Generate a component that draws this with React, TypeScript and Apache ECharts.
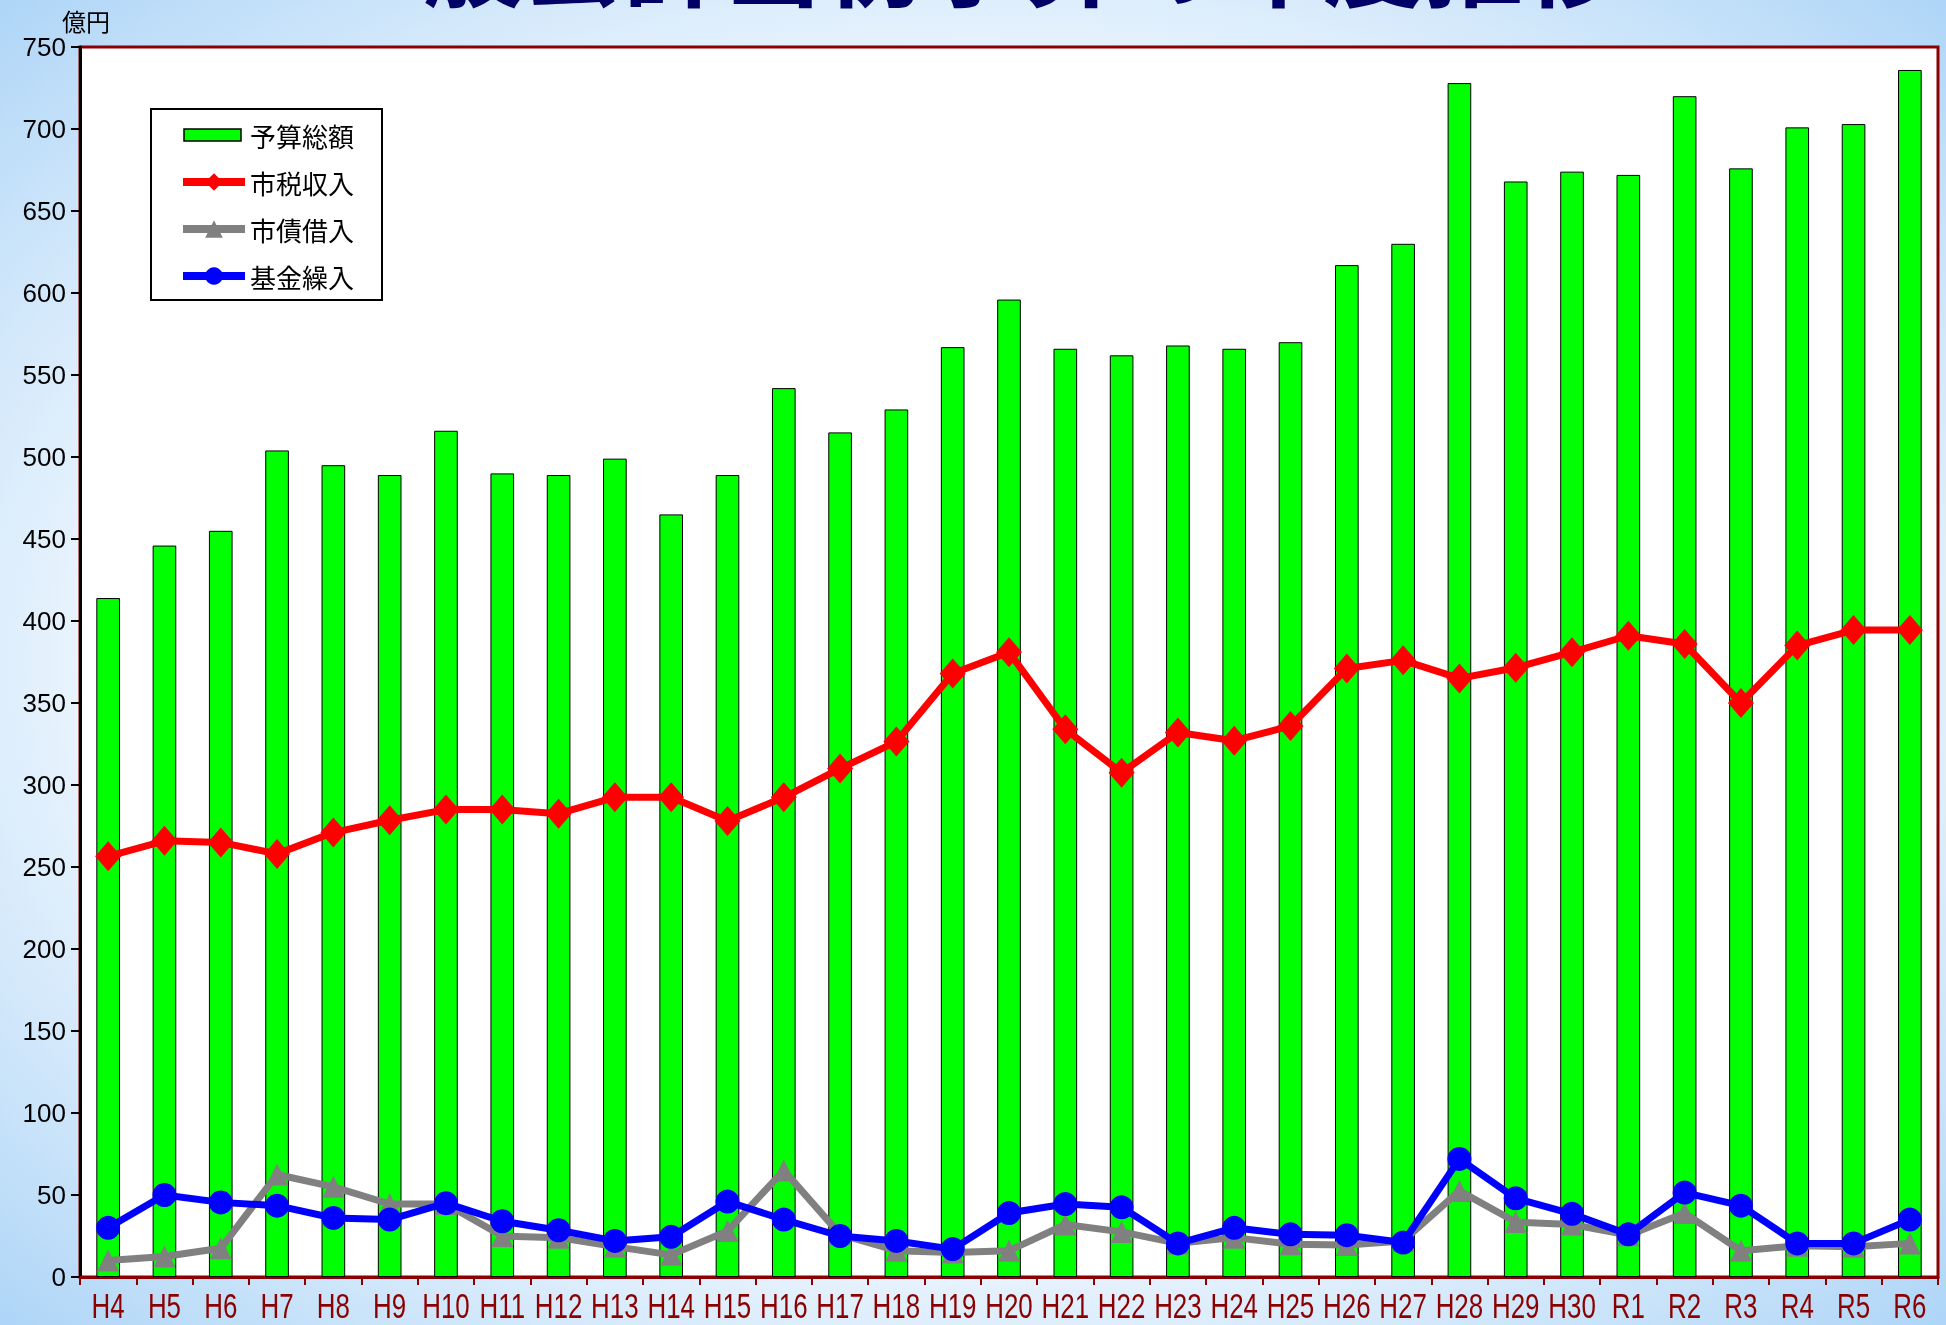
import React, { useEffect, useRef } from "react";
import * as echarts from "echarts";

const categories = [
  "H4", "H5", "H6", "H7", "H8", "H9", "H10", "H11", "H12", "H13", "H14", "H15", "H16", "H17", "H18", "H19",
  "H20", "H21", "H22", "H23", "H24", "H25", "H26", "H27", "H28", "H29", "H30", "R1", "R2", "R3", "R4", "R5", "R6",
];
const budgetTotal = [
  414, 446, 455, 504, 495, 489, 516, 490, 489, 499, 465, 489, 542, 515, 529, 567,
  596, 566, 562, 568, 566, 570, 617, 630, 728, 668, 674, 672, 720, 676, 701, 703, 736,
];
const taxRevenue = [
  256.5, 266, 265, 258, 271, 278.5, 285, 285, 282.5, 292.5, 292.5, 278, 292.5, 310, 326.5, 368,
  381, 334, 307.5, 332, 327, 336, 371, 376, 365, 371.5, 381, 391, 386, 350, 385, 394.5, 394.5,
];
const bondIssue = [
  10, 12.5, 17.5, 62.5, 55, 44.5, 44.5, 25, 24, 18.5, 13.5, 28, 65, 26, 16, 15,
  16, 32, 27.5, 20.5, 24, 20, 19.5, 22, 52.5, 33.5, 32, 25.5, 39, 16, 19, 18.5, 20.5,
];
const fundTransfer = [
  30, 50, 45.5, 43.5, 36, 35, 45, 34, 28.5, 22, 24.5, 46, 35, 25, 22, 17,
  39, 44.5, 42.5, 20.5, 30, 26, 25.5, 21, 72, 48, 38.5, 26, 51.5, 43.5, 20.5, 20.5, 35,
];
const seriesNames = ["予算総額", "市税収入", "市債借入", "基金繰入"];
const titleText = "一般会計当初予算の年度推移";
const unitText = "億円";

const JP = "'Noto Sans CJK JP', 'Noto Sans', sans-serif";
const SANS = "'Liberation Sans', Arial, sans-serif";

export default function App() {
  const ref = useRef<HTMLDivElement>(null);
  useEffect(() => {
    if (!ref.current) return;
    const chart = echarts.init(ref.current, null, { renderer: "svg" });
    const lineCommon = {
      type: "line" as const,
      z: 3,
    };
    const baseGraphics: any[] = [
      {
        id: "title",
        type: "text",
        x: 973,
        y: 5,
        style: {
          text: titleText,
          fill: "#000066",
          font: `bold 100px ${JP}`,
          align: "center",
          verticalAlign: "bottom",
        },
      },
      {
        id: "unit",
        type: "text",
        x: 62,
        y: 8,
        style: {
          text: unitText,
          fill: "#000000",
          font: `24px ${JP}`,
        },
      },
    ];
    chart.setOption({
      animation: false,
      backgroundColor: {
        type: "radial",
        x: 0.5,
        y: 0.5,
        r: 0.75,
        colorStops: [
          { offset: 0, color: "#ffffff" },
          { offset: 0.6, color: "#eaf4fd" },
          { offset: 1, color: "#a4d0f6" },
        ],
      },
      graphic: baseGraphics,
      legend: {
        orient: "vertical",
        left: 151,
        top: 109,
        backgroundColor: "#ffffff",
        borderColor: "#000000",
        borderWidth: 2,
        borderRadius: 0,
        padding: [13, 28, 11, 28],
        itemWidth: 62,
        itemHeight: 22,
        itemGap: 21,
        textStyle: { fontSize: 26, color: "#000000", fontFamily: JP },
        lineStyle: { width: 8 },
        data: [
          {
            name: seriesNames[0],
            icon: "path://M0,0 M1,5 L58,5 L58,17 L1,17 Z M62,22",
            itemStyle: { borderColor: "#000", borderWidth: 1.5 },
          },
          { name: seriesNames[1] },
          { name: seriesNames[2] },
          { name: seriesNames[3] },
        ],
      },
      grid: {
        left: 80,
        right: 8,
        top: 47,
        bottom: 48,
        show: true,
        backgroundColor: "#ffffff",
        borderColor: "#8b0000",
        borderWidth: 3,
      },
      xAxis: {
        type: "category",
        data: categories,
        boundaryGap: true,
        axisLine: { lineStyle: { color: "#8b0000", width: 3 } },
        axisTick: { show: true, length: 8, lineStyle: { color: "#8b0000", width: 2 } },
        axisLabel: { show: false },
        splitLine: { show: false },
      },
      yAxis: {
        type: "value",
        min: 0,
        max: 750,
        interval: 50,
        axisLine: { show: true, lineStyle: { color: "#000000", width: 3 } },
        axisTick: { show: true, length: 9, lineStyle: { color: "#000000", width: 2 } },
        axisLabel: {
          color: "#000000",
          fontSize: 26,
          fontFamily: SANS,
          margin: 14,
        },
        splitLine: { show: false },
      },
      series: [
        {
          name: seriesNames[0],
          type: "bar",
          data: budgetTotal,
          barWidth: "42%",
          itemStyle: { color: "#00ff00", borderColor: "#000000", borderWidth: 1 },
          z: 2,
        },
        {
          ...lineCommon,
          name: seriesNames[1],
          data: taxRevenue,
          symbol: "diamond",
          symbolSize: [26, 30],
          lineStyle: { color: "#ff0000", width: 7 },
          itemStyle: { color: "#ff0000" },
        },
        {
          ...lineCommon,
          name: seriesNames[2],
          data: bondIssue,
          symbol: "triangle",
          symbolSize: [22, 22],
          lineStyle: { color: "#808080", width: 7 },
          itemStyle: { color: "#808080" },
        },
        {
          ...lineCommon,
          name: seriesNames[3],
          data: fundTransfer,
          symbol: "circle",
          symbolSize: 24,
          lineStyle: { color: "#0000ff", width: 7 },
          itemStyle: { color: "#0000ff" },
        },
      ],
    });

    // Category labels: condensed text placed through the category axis scale
    const zeroY = chart.convertToPixel({ yAxisIndex: 0 }, 0) as number;
    const labelGraphics = categories.map((cat, i) => {
      const px = chart.convertToPixel({ xAxisIndex: 0 }, cat) as number;
      return {
        id: "xl" + i,
        type: "text",
        x: px,
        y: zeroY + 29,
        scaleX: 0.72,
        style: {
          text: cat,
          fill: "#8b0000",
          font: `36px ${SANS}`,
          align: "center",
          verticalAlign: "middle",
        },
      };
    });
    chart.setOption({ graphic: [...baseGraphics, ...labelGraphics] });
    return () => chart.dispose();
  }, []);
  return (
    <div
      ref={ref}
      style={{ position: "fixed", left: 0, top: 0, width: 1946, height: 1325 }}
    />
  );
}
